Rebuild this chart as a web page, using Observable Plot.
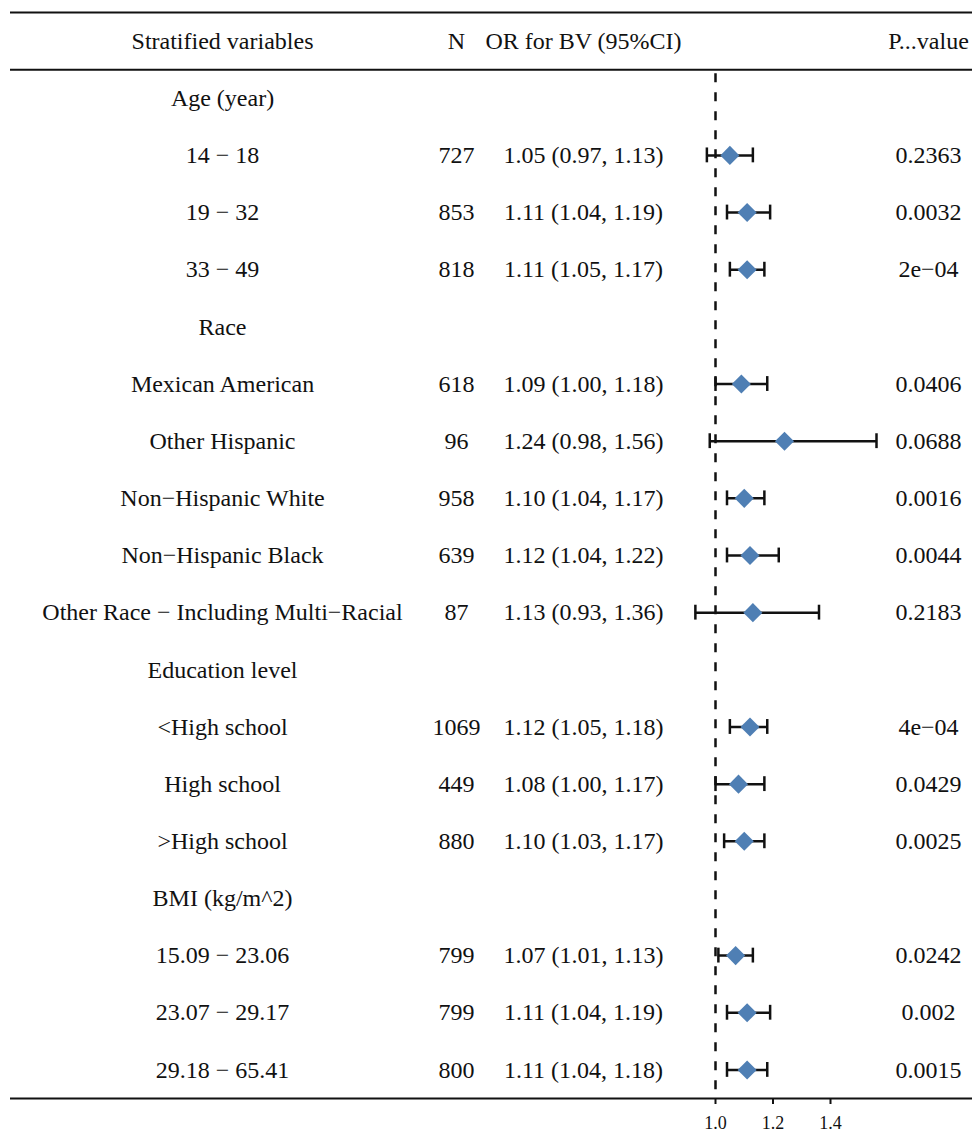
<!DOCTYPE html>
<html><head><meta charset="utf-8">
<script src="https://cdn.jsdelivr.net/npm/d3@7"></script>
<script src="https://cdn.jsdelivr.net/npm/@observablehq/plot@0.6"></script>
<style>body{margin:0;background:#fff}</style>
</head><body><div id="chart"></div>
<script>
const header = ["Stratified variables", "N", "OR for BV (95%CI)", "P...value"];
const labels = ["Age (year)", "14 \u2212 18", "19 \u2212 32", "33 \u2212 49",
  "Race", "Mexican American", "Other Hispanic", "Non\u2212Hispanic White", "Non\u2212Hispanic Black",
  "Other Race \u2212 Including Multi\u2212Racial",
  "Education level", "<High school", "High school", ">High school",
  "BMI (kg/m^2)", "15.09 \u2212 23.06", "23.07 \u2212 29.17", "29.18 \u2212 65.41"];
const nValues = ["", "727", "853", "818", "", "618", "96", "958", "639", "87", "", "1069", "449", "880", "", "799", "799", "800"];
const estimates = [null, 1.05, 1.11, 1.11, null, 1.09, 1.24, 1.10, 1.12, 1.13, null, 1.12, 1.08, 1.10, null, 1.07, 1.11, 1.11];
const lower = [null, 0.97, 1.04, 1.05, null, 1.00, 0.98, 1.04, 1.04, 0.93, null, 1.05, 1.00, 1.03, null, 1.01, 1.04, 1.04];
const upper = [null, 1.13, 1.19, 1.17, null, 1.18, 1.56, 1.17, 1.22, 1.36, null, 1.18, 1.17, 1.17, null, 1.13, 1.19, 1.18];
const pValues = ["", "0.2363", "0.0032", "2e\u221204", "", "0.0406", "0.0688", "0.0016", "0.0044", "0.2183", "", "4e\u221204", "0.0429", "0.0025", "", "0.0242", "0.002", "0.0015"];
const xTicks = [1.0, 1.2, 1.4];

const f2 = d3.format(".2f");
const rows = labels.map((label, i) => ({
  row: i + 1,
  label,
  n: nValues[i],
  est: estimates[i], lo: lower[i], hi: upper[i],
  or: estimates[i] == null ? "" : `${f2(estimates[i])} (${f2(lower[i])}, ${f2(upper[i])})`,
  p: pValues[i]
}));
const cis = rows.filter(d => d.est != null);

const font = "'Liberation Serif', 'Times New Roman', serif";
const W = 972, H = 1134, mL = 10, mR = 0, mT = 12, mB = 36;
const pxPerUnit = 287.5, refX = 715;
const xDomain = [1 - (refX - mL) / pxPerUnit, 1 + (W - mR - refX) / pxPerUnit];

const colDx = [212, 446, 573, 918];
const colKeys = ["label", "n", "or", "p"];
const textMarks = [];
colKeys.forEach((k, c) => {
  textMarks.push(Plot.text([header[c]], {y: () => 0, text: d => d, frameAnchor: "left", dx: colDx[c], textAnchor: "middle", fontSize: 24, fill: "#111"}));
  textMarks.push(Plot.text(rows, {y: "row", text: k, frameAnchor: "left", dx: colDx[c], textAnchor: "middle", fontSize: 24, fill: "#111"}));
});

const chart = Plot.plot({
  width: W, height: H,
  marginLeft: mL, marginRight: mR, marginTop: mT, marginBottom: mB,
  style: {fontFamily: font, background: "#fff", color: "#111"},
  x: {domain: xDomain},
  y: {domain: [-0.5, 18.5], reverse: true, axis: null},
  marks: [
    Plot.ruleY([-0.5, 0.5, 18.5], {stroke: "#111", strokeWidth: 2}),
    Plot.ruleX([1], {y1: 0.5, y2: 18.5, stroke: "#111", strokeWidth: 2.5, strokeDasharray: "9,10", strokeDashoffset: -4}),
    Plot.ruleY(cis, {y: "row", x1: "lo", x2: "hi", stroke: "#111", strokeWidth: 2.5}),
    Plot.ruleX(cis, {x: "lo", y1: d => d.row - 0.13, y2: d => d.row + 0.13, stroke: "#111", strokeWidth: 2.5}),
    Plot.ruleX(cis, {x: "hi", y1: d => d.row - 0.13, y2: d => d.row + 0.13, stroke: "#111", strokeWidth: 2.5}),
    Plot.dot(cis, {x: "est", y: "row", symbol: "diamond2", r: 8.6, fill: "#4f7fb4", stroke: "none"}),
    Plot.axisX({ticks: xTicks, tickFormat: d3.format(".1f"), tickSize: 6, tickPadding: 12, fontSize: 18, strokeWidth: 2, label: null, fill: "#111"}),
    ...textMarks
  ]
});
document.getElementById("chart").append(chart);
</script>
</body></html>
